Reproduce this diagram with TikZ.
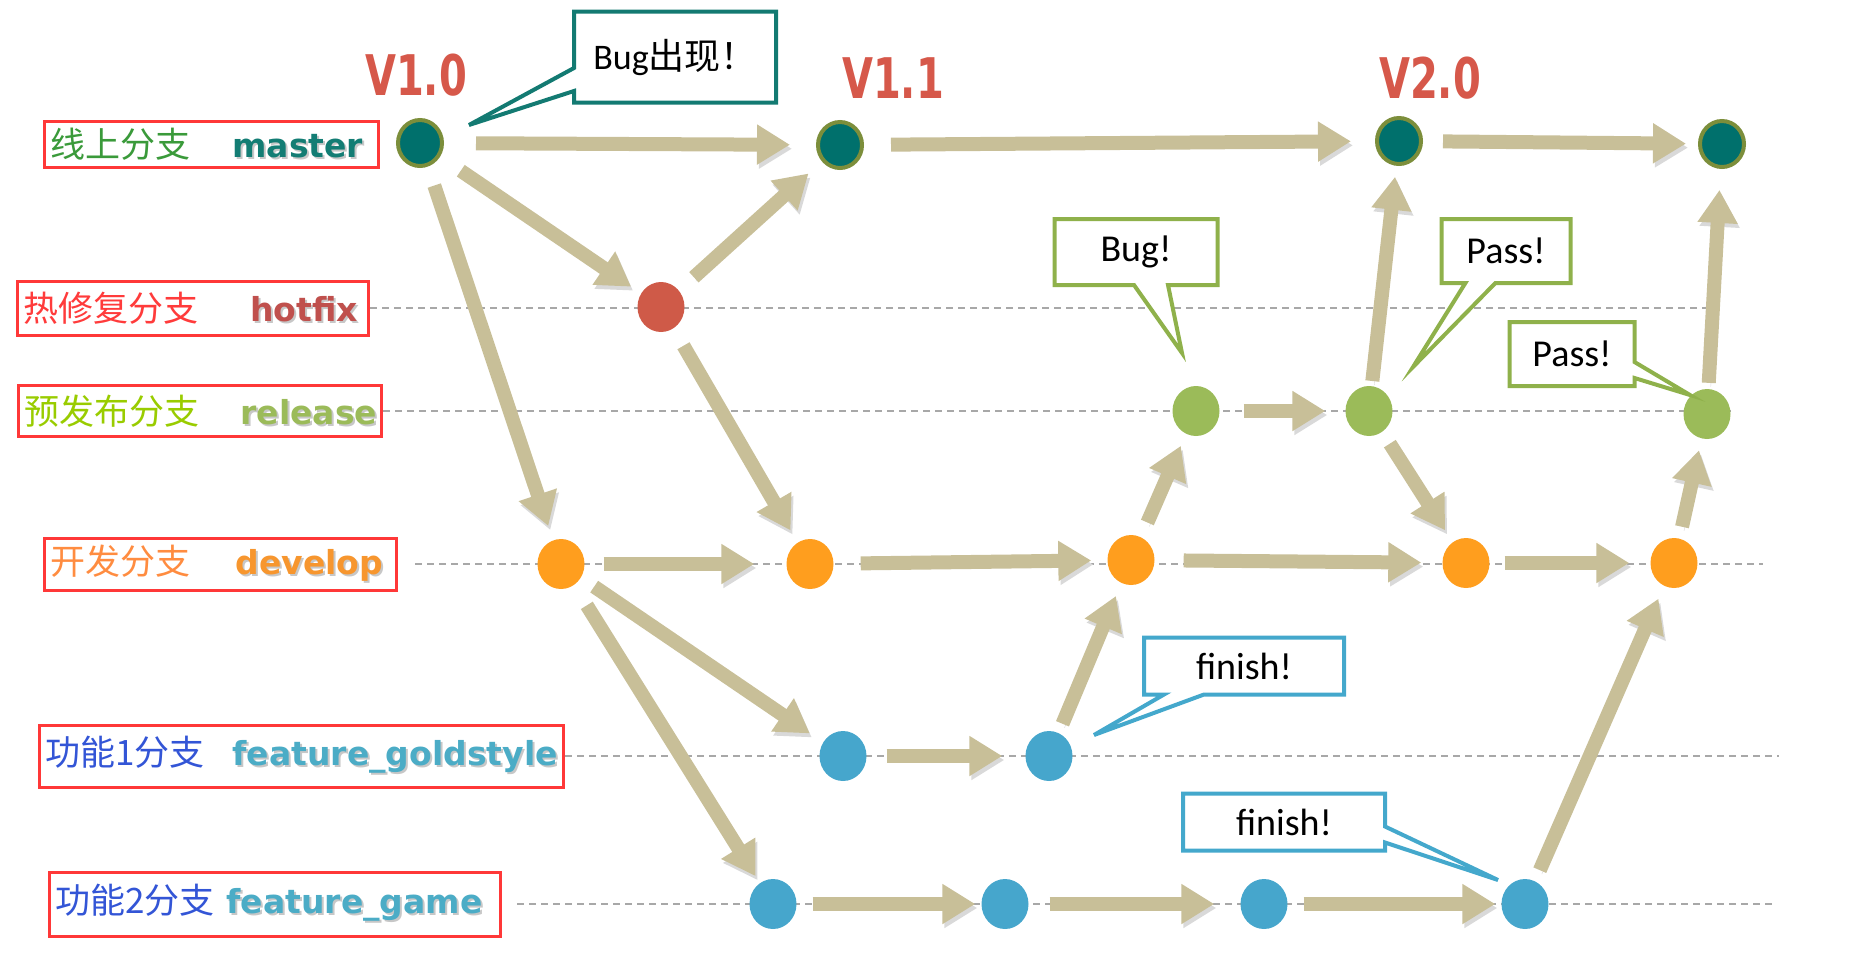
\documentclass[tikz,border=0pt]{standalone}
\usepackage{fontspec}
\setmainfont{Carlito}
\newfontfamily\cjk{Noto Sans CJK SC}
\newfontfamily\lblfont{DejaVu Sans}
\usepackage{graphicx}
\usepackage{xcolor}
\usepackage{tikz}
\usetikzlibrary{arrows.meta,positioning,shapes.geometric,shapes.callouts}

\definecolor{masterfill}{HTML}{00706C}
\definecolor{masterring}{HTML}{7C8E3B}
\definecolor{hotfill}{HTML}{CF5A48}
\definecolor{relfill}{HTML}{9BBB59}
\definecolor{devfill}{HTML}{FF9E1E}
\definecolor{featfill}{HTML}{46A6CC}
\definecolor{arrowcol}{HTML}{C8BF98}
\definecolor{dashcol}{HTML}{A8A8A8}
\definecolor{verred}{HTML}{D6584A}
\definecolor{lblred}{HTML}{FF3838}
\definecolor{cnmaster}{HTML}{3A9A3A}
\definecolor{enmaster}{HTML}{137D74}
\definecolor{cnhot}{HTML}{FF3B3B}
\definecolor{enhot}{HTML}{C0504D}
\definecolor{cnrel}{HTML}{99CC00}
\definecolor{enrel}{HTML}{9BBB59}
\definecolor{cndev}{HTML}{FF8C40}
\definecolor{endev}{HTML}{F7962E}
\definecolor{cnfeat}{HTML}{3355D6}
\definecolor{enfeat}{HTML}{4BACC6}
\definecolor{bugteal}{HTML}{137A72}
\definecolor{passgreen}{HTML}{8FB14B}
\definecolor{finblue}{HTML}{44A8CC}

% text with a soft shadow
\newcommand\shadowed[2]{\makebox[0pt][l]{\kern2pt\raisebox{-2pt}{\textcolor{black!22}{#2}}}\textcolor{#1}{#2}}
% branch label: total width, width of chinese part, cn colour, cn text, en colour, en text
\newcommand\brlabel[6]{\makebox[#1][l]{\hspace{6pt}\makebox[#2][l]{\cjk\fontsize{35}{38}\selectfont\color{#3}#4}%
  {\lblfont\bfseries\fontsize{33}{36}\selectfont\shadowed{#5}{#6}}}}

\begin{document}
\begin{tikzpicture}[x=1pt, y=-1pt,
  every node/.style={font=\fontsize{38}{42}\selectfont},
  commit/.style={ellipse, minimum width=47pt, minimum height=50pt, inner sep=0pt},
  mcommit/.style={commit, fill=masterfill, draw=masterring, line width=4pt,
                  minimum width=44pt, minimum height=46pt},
  hcommit/.style={commit, fill=hotfill},
  rcommit/.style={commit, fill=relfill},
  dcommit/.style={commit, fill=devfill},
  fcommit/.style={commit, fill=featfill},
  lblbox/.style={draw=lblred, line width=3pt, anchor=west, inner sep=0pt},
  verlbl/.style={font=\lblfont\bfseries\fontsize{40}{44}\selectfont, text=verred},
  branchline/.style={draw=dashcol, line width=2pt, dash pattern=on 7pt off 5pt},
  arr/.style={-{Triangle[length=33pt,width=38pt]}, line width=14pt, draw=arrowcol,
              shorten <=20pt, shorten >=18pt,
              preaction={draw=black!15, transform canvas={shift={(2pt,-4pt)}}}},
  callout/.style={rectangle callout, fill=white, line width=4pt, inner sep=0pt}
]
\useasboundingbox (0,0) rectangle (1875,975);

% branch labels
\node[lblbox, minimum height=46pt] (lmaster) at (43,144)
  {\brlabel{334pt}{182pt}{cnmaster}{线上分支}{enmaster}{master}};
\node[lblbox, minimum height=54pt] (lhotfix) at (16,308)
  {\brlabel{351pt}{227pt}{cnhot}{热修复分支}{enhot}{hotfix}};
\node[lblbox, minimum height=51pt] (lrelease) at (17,411)
  {\brlabel{363pt}{216pt}{cnrel}{预发布分支}{enrel}{release}};
\node[lblbox, minimum height=52pt] (ldevelop) at (43,564)
  {\brlabel{352pt}{185pt}{cndev}{开发分支}{endev}{develop}};
\node[lblbox, minimum height=62pt] (lgold) at (38,756)
  {\brlabel{524pt}{187pt}{cnfeat}{功能1分支}{enfeat}{feature\_goldstyle}};
\node[lblbox, minimum height=64pt] (lgame) at (48,904)
  {\brlabel{451pt}{171pt}{cnfeat}{功能2分支}{enfeat}{feature\_game}};

% dashed branch lines
\coordinate (ehotfix) at (1710,308);
\coordinate (erelease) at (1731,411);
\coordinate (edevelop) at (1763,564);
\coordinate (egold) at (1779,756);
\coordinate (egame) at (1775,904);
\draw[branchline] (lhotfix.east) -- (ehotfix);
\draw[branchline] (lrelease.east) -- (erelease);
\draw[branchline] ([xshift=17pt]ldevelop.east) -- (edevelop);
\draw[branchline] (lgold.east) -- (egold);
\draw[branchline] ([xshift=15pt]lgame.east) -- (egame);

% commits
\node[mcommit] (m1) at (420,143) {};
\node[mcommit] (m2) at (840,145) {};
\node[mcommit] (m3) at (1399,141) {};
\node[mcommit] (m4) at (1722,144) {};
\node[hcommit] (hf) at (661,307) {};
\node[rcommit] (r1) at (1196,411) {};
\node[rcommit] (r2) at (1369,411) {};
\node[rcommit] (r3) at (1707,414) {};
\node[dcommit] (d1) at (561,564) {};
\node[dcommit] (d2) at (810,564) {};
\node[dcommit] (d3) at (1131,560) {};
\node[dcommit] (d4) at (1466,563) {};
\node[dcommit] (d5) at (1674,563) {};
\node[fcommit] (g1) at (843,756) {};
\node[fcommit] (g2) at (1049,756) {};
\node[fcommit] (f1) at (773,904) {};
\node[fcommit] (f2) at (1005,904) {};
\node[fcommit] (f3) at (1264,904) {};
\node[fcommit] (f4) at (1525,904) {};

% versions
\node[verlbl] (v10) at (416,75) {\scalebox{1}[1.4]{V1.0}};
\node[verlbl] (v11) at (893,78) {\scalebox{1}[1.4]{V1.1}};
\node[verlbl] (v20) at (1430,78) {\scalebox{1}[1.4]{V2.0}};

% merges and commits
\draw[arr, shorten <=32pt, shorten >=26pt] (m1) -- (m2);
\draw[arr, shorten <=27pt, shorten >=24pt] (m2) -- (m3);
\draw[arr, shorten >=12pt] (m3) -- (m4);
\draw[arr, shorten <=25pt, shorten >=12pt] (m1) -- (hf);
\draw[arr] (hf) -- (m2);
\draw[arr, shorten >=15pt] (m1) -- (d1);
\draw[arr, shorten >=14pt] (hf) -- (d2);
\draw[arr, shorten <=19pt, shorten >=32pt] (d1) -- (d2);
\draw[arr, shorten <=27pt, shorten >=16pt] (d2) -- (d3);
\draw[arr, shorten <=16pt, shorten >=13pt] (d3) -- (r1);
\draw[arr, shorten <=24pt, shorten >=20pt] (r1) -- (r2);
\draw[arr, shorten <=5pt, shorten >=11pt] (r2) -- (m3);
\draw[arr, shorten <=14pt, shorten >=14pt] (r2) -- (d4);
\draw[arr, shorten <=29pt, shorten >=21pt] (d3) -- (d4);
\draw[arr, shorten <=15pt, shorten >=21pt] (d4) -- (d5);
\draw[arr, shorten <=12pt, shorten >=12pt] (d5) -- (r3);
\draw[arr, shorten <=6pt, shorten >=21pt] (r3) -- (m4);
\draw[arr, shorten <=16pt, shorten >=16pt] (d1) -- (g1);
\draw[arr, shorten <=24pt, shorten >=8pt] (d1) -- (f1);
\draw[arr, shorten <=20pt, shorten >=23pt] (g1) -- (g2);
\draw[arr, shorten <=10pt, shorten >=14pt] (g2) -- (d3);
\draw[arr, shorten <=16pt, shorten >=6pt] (f1) -- (f2);
\draw[arr, shorten <=21pt, shorten >=26pt] (f2) -- (f3);
\draw[arr, shorten <=16pt, shorten >=6pt] (f3) -- (f4);
\draw[arr, shorten <=12pt, shorten >=14pt] (f4) -- (d5);

% callouts
\node[callout, draw=bugteal, minimum width=202pt, minimum height=91pt,
      callout absolute pointer={(469,125)}, callout pointer width=23pt] (cbug) at (675,57)
  {\fontsize{36}{40}\selectfont Bug{\cjk 出现！}};
\node[callout, draw=passgreen, minimum width=163pt, minimum height=66pt,
      callout absolute pointer={(1182,353)}, callout pointer width=34pt] (cbug2) at (1136,252) {Bug!};
\node[callout, draw=passgreen, minimum width=129pt, minimum height=64pt,
      callout absolute pointer={(1413,367)}, callout pointer width=30pt] (cpass1) at (1506,251) {Pass!};
\node[callout, draw=passgreen, minimum width=125pt, minimum height=64pt,
      callout absolute pointer={(1690,395)}, callout pointer width=16pt] (cpass2) at (1572,354) {Pass!};
\node[callout, draw=finblue, minimum width=200pt, minimum height=57pt,
      callout absolute pointer={(1094,735)}, callout pointer width=40pt] (cfin1) at (1244,666) {finish!};
\node[callout, draw=finblue, minimum width=202pt, minimum height=57pt,
      callout absolute pointer={(1498,880)}, callout pointer width=16pt] (cfin2) at (1284,822) {finish!};
\end{tikzpicture}
\end{document}
